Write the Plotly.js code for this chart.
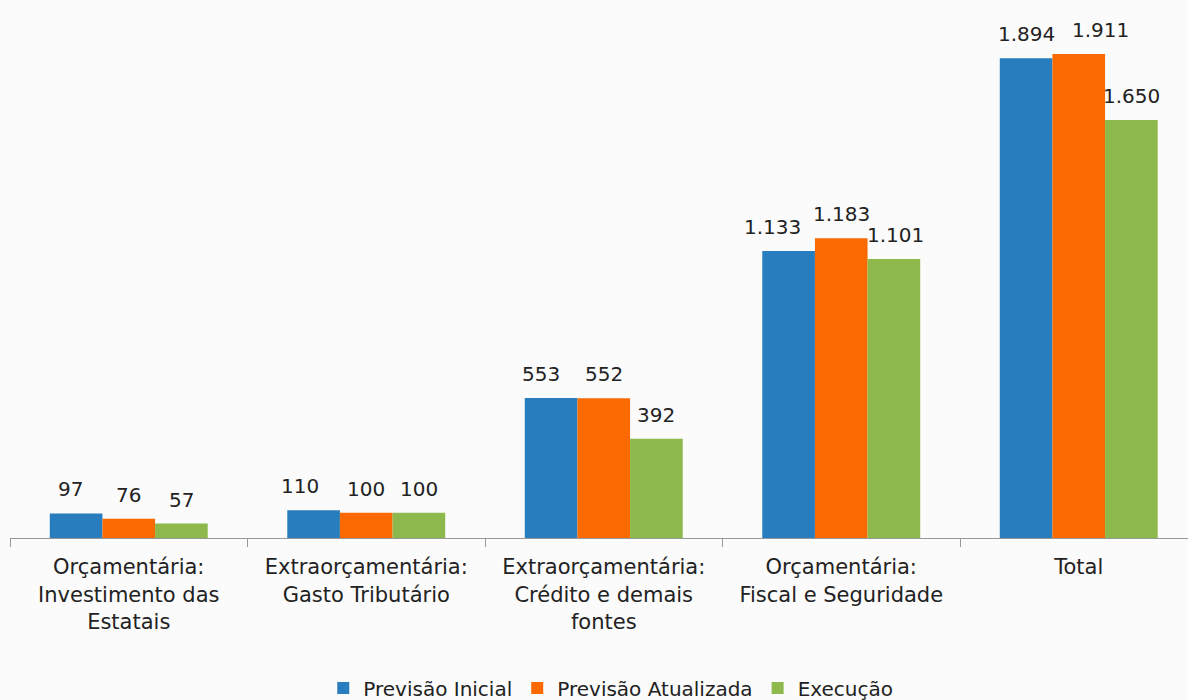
<!DOCTYPE html>
<html>
<head>
<meta charset="utf-8">
<script src="https://cdn.plot.ly/plotly-3.0.1.min.js"></script>
<style>html,body{margin:0;padding:0;background:#fbfbfb;}#chart{width:1188px;height:700px;}</style>
</head>
<body>
<div id="chart"></div>
<script>
const categories = [
  "Orçamentária:<br>Investimento das<br>Estatais",
  "Extraorçamentária:<br>Gasto Tributário",
  "Extraorçamentária:<br>Crédito e demais<br>fontes",
  "Orçamentária:<br>Fiscal e Seguridade",
  "Total"
];
const seriesNames = ["Previsão Inicial", "Previsão Atualizada", "Execução"];
const previsaoInicial = [97, 110, 553, 1133, 1894];
const previsaoAtualizada = [76, 100, 552, 1183, 1911];
const execucao = [57, 100, 392, 1101, 1650];
const colors = ["#277dbe", "#fa6a00", "#8cb84c"];

// label nudges (styling only, px) to avoid overlapping labels, as in the original
const labelNudge = [
  [-6, -14, -10, -16, 0],
  [0, 0, 0, 0, 22],
  [0, 0, 0, 2, 0]
];

const seriesValues = [previsaoInicial, previsaoAtualizada, execucao];
const fmt = v => v.toLocaleString("de-DE");
const FONT = "DejaVu Sans, Liberation Sans, Arial, sans-serif";

const traces = seriesValues.map((vals, i) => ({
  type: "bar",
  name: seriesNames[i],
  x: categories,
  y: vals,
  marker: {color: colors[i], line: {width: 0}},
  hoverinfo: "skip"
}));

const barPx = 52.6;
const annotations = [];
seriesValues.forEach((vals, i) => {
  vals.forEach((v, j) => {
    annotations.push({
      x: categories[j], y: v, xref: "x", yref: "y",
      text: fmt(v), showarrow: false,
      xshift: (i - 1) * barPx + labelNudge[i][j], yanchor: "bottom", yshift: 10,
      font: {family: FONT, size: 20, color: "#222"}
    });
  });
});

const layout = {
  width: 1188, height: 700,
  paper_bgcolor: "#fbfbfb", plot_bgcolor: "rgba(0,0,0,0)",
  margin: {l: 10, r: 0, t: 0, b: 162, autoexpand: false},
  barmode: "group", bargap: 0.335, bargroupgap: 0,
  showlegend: true,
  legend: {
    orientation: "h", x: 0.51, xanchor: "center",
    yref: "container", y: 0.017, yanchor: "middle",
    font: {family: FONT, size: 20, color: "#222"},
    itemwidth: 30, bgcolor: "rgba(0,0,0,0)"
  },
  xaxis: {
    type: "category", range: [-0.5, 4.46], automargin: false,
    showline: true, linecolor: "#999", linewidth: 1,
    ticks: "outside", tickson: "boundaries", ticklen: 8, tickcolor: "#999",
    ticklabelstandoff: 10,
    tickfont: {family: FONT, size: 21, color: "#222"},
    showgrid: false, zeroline: false, fixedrange: true
  },
  yaxis: {
    range: [0, 2124], visible: false, showgrid: false, zeroline: false, automargin: false
  },
  annotations: annotations,
  font: {family: FONT}
};

Plotly.newPlot("chart", traces, layout, {displayModeBar: false, staticPlot: true});
</script>
</body>
</html>
